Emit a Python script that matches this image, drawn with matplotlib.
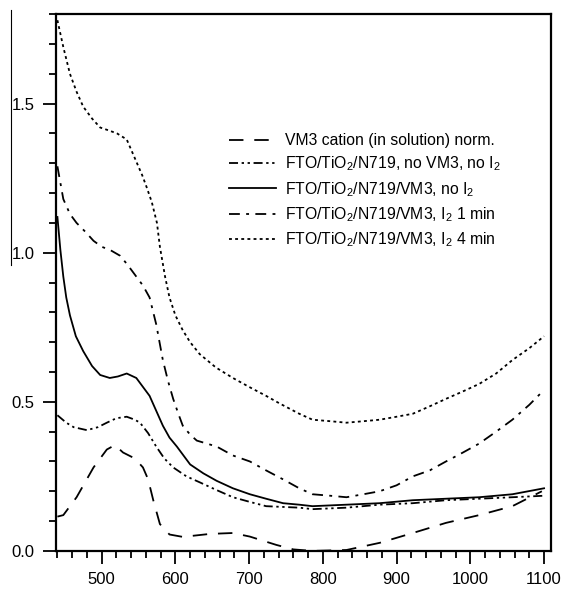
import matplotlib
matplotlib.use('Agg')
import matplotlib.pyplot as plt
from matplotlib.ticker import MultipleLocator
from matplotlib.lines import Line2D

plt.rcParams['font.family'] = ['Liberation Sans', 'DejaVu Sans']
plt.rcParams['mathtext.fontset'] = 'custom'
plt.rcParams['mathtext.rm'] = 'Liberation Sans'
plt.rcParams['mathtext.it'] = 'Liberation Sans:italic'

# VM3 cation (in solution), normalised
wl_vm3 = [440, 448, 466, 489, 507, 518, 529, 545, 556, 563, 570, 579, 592, 610,
          647, 678, 701, 737, 760, 786, 832, 877, 922, 967, 1012, 1057, 1097]
abs_vm3 = [0.115, 0.12, 0.18, 0.28, 0.34, 0.355, 0.33, 0.31, 0.28, 0.24, 0.17, 0.09,
           0.055, 0.047, 0.057, 0.06, 0.048, 0.02, 0.005, 0.0, 0.003, 0.027, 0.06,
           0.094, 0.12, 0.15, 0.20]

# FTO/TiO2/N719, no VM3, no I2
wl_n719 = [440, 452, 462, 480, 495, 507, 520, 534, 545, 552, 563, 574, 585, 597,
           615, 633, 655, 678, 700, 723, 768, 786, 832, 877, 922, 967, 1012, 1057, 1100]
abs_n719 = [0.455, 0.43, 0.415, 0.405, 0.415, 0.43, 0.445, 0.45, 0.44, 0.43, 0.395,
            0.35, 0.31, 0.28, 0.25, 0.23, 0.205, 0.18, 0.165, 0.15, 0.145, 0.14,
            0.145, 0.155, 0.16, 0.17, 0.175, 0.18, 0.185]

# FTO/TiO2/N719/VM3, no I2
wl_noi2 = [440, 444, 448, 452, 457, 465, 475, 487, 498, 511, 522, 534, 547, 556,
           565, 574, 583, 592, 602, 620, 638, 656, 678, 701, 723, 746, 768, 786,
           832, 877, 922, 967, 1012, 1057, 1100]
abs_noi2 = [1.12, 1.01, 0.92, 0.85, 0.79, 0.72, 0.67, 0.62, 0.59, 0.58, 0.585,
            0.595, 0.58, 0.55, 0.52, 0.47, 0.42, 0.38, 0.35, 0.29, 0.26, 0.235,
            0.21, 0.19, 0.175, 0.16, 0.155, 0.15, 0.155, 0.16, 0.17, 0.175, 0.18,
            0.19, 0.21]

# FTO/TiO2/N719/VM3, I2 1 min
wl_1min = [440, 448, 457, 466, 478, 489, 500, 511, 525, 535, 547, 556, 565, 574,
           583, 590, 597, 604, 610, 620, 629, 656, 678, 701, 723, 746, 768, 786,
           810, 832, 855, 877, 900, 922, 945, 967, 990, 1012, 1035, 1057, 1080, 1100]
abs_1min = [1.29, 1.18, 1.13, 1.10, 1.07, 1.04, 1.02, 1.01, 0.99, 0.96, 0.92, 0.89,
            0.85, 0.76, 0.64, 0.57, 0.51, 0.46, 0.42, 0.39, 0.37, 0.35, 0.32, 0.30,
            0.27, 0.24, 0.21, 0.19, 0.185, 0.18, 0.19, 0.20, 0.22, 0.25, 0.27, 0.30,
            0.33, 0.36, 0.40, 0.44, 0.49, 0.54]

# FTO/TiO2/N719/VM3, I2 4 min
wl_4min = [440, 448, 457, 466, 475, 487, 498, 510, 521, 534, 541, 548, 555, 561,
           568, 575, 579, 586, 592, 600, 610, 620, 633, 655, 678, 700, 723, 741,
           768, 786, 810, 832, 855, 877, 900, 922, 945, 967, 990, 1012, 1035, 1057,
           1080, 1100]
abs_4min = [1.78, 1.69, 1.60, 1.54, 1.49, 1.45, 1.42, 1.41, 1.40, 1.38, 1.34, 1.30,
            1.26, 1.22, 1.17, 1.10, 1.02, 0.92, 0.85, 0.79, 0.74, 0.70, 0.66, 0.615,
            0.58, 0.55, 0.52, 0.495, 0.46, 0.44, 0.435, 0.43, 0.435, 0.44, 0.45,
            0.46, 0.485, 0.51, 0.535, 0.56, 0.595, 0.64, 0.68, 0.72]

labels = [
    'VM3 cation (in solution) norm.',
    r'FTO/TiO$_2$/N719, no VM3, no I$_2$',
    r'FTO/TiO$_2$/N719/VM3, no I$_2$',
    r'FTO/TiO$_2$/N719/VM3, I$_2$ 1 min',
    r'FTO/TiO$_2$/N719/VM3, I$_2$ 4 min',
]

fig = plt.figure(figsize=(5.65, 5.93), dpi=100)
ax = fig.add_axes([0.099, 0.071, 0.877, 0.905])

lw = 1.3
ax.plot(wl_vm3, abs_vm3, color='black', lw=lw, ls=(0, (8, 6)), label=labels[0])
ax.plot(wl_n719, abs_n719, color='black', lw=lw, ls=(0, (5, 2, 1.3, 2, 1.3, 2)), label=labels[1])
ax.plot(wl_noi2, abs_noi2, color='black', lw=lw, ls='-', label=labels[2])
ax.plot(wl_1min, abs_1min, color='black', lw=lw, ls=(0, (6, 3.5, 1.6, 3.5)), label=labels[3])
ax.plot(wl_4min, abs_4min, color='black', lw=lw, ls=(0, (1.6, 1.8)), label=labels[4])

ax.set_xlim(438, 1110)
ax.set_ylim(0, 1.8)
ax.xaxis.set_major_locator(MultipleLocator(100))
ax.xaxis.set_minor_locator(MultipleLocator(20))
ax.yaxis.set_minor_locator(MultipleLocator(0.1))
ax.set_yticks([0.0, 0.5, 1.0, 1.5])
ax.set_yticklabels(['0.0', '0.5', '1.0', '1.5'])

ax.tick_params(axis='both', which='major', direction='out', length=9.5, width=1.3,
               labelsize=12, pad=6)
ax.tick_params(axis='both', which='minor', direction='out', length=5, width=1.3)
for sp in ax.spines.values():
    sp.set_linewidth(1.6)

ax.legend(loc='upper left', bbox_to_anchor=(0.32, 0.805), frameon=False,
          fontsize=11.3, handlelength=3.0, labelspacing=0.42, handletextpad=0.6)

# stray vertical rule left of the y tick labels
fig.add_artist(Line2D([0.0195, 0.0195], [0.553, 0.983], color='black', lw=0.8,
                      transform=fig.transFigure))

fig.savefig('out.png', dpi=100)
